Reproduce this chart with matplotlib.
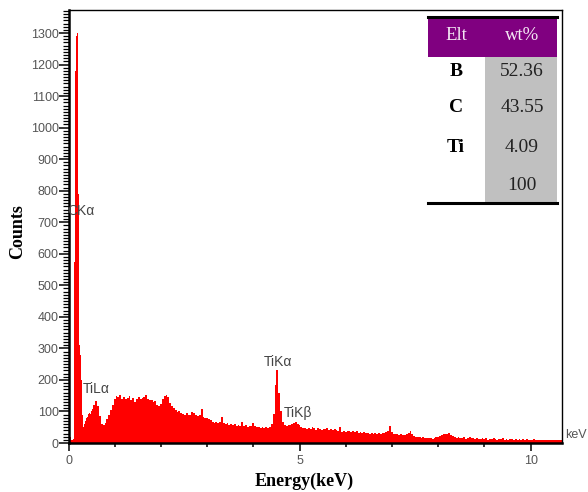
import numpy as np
import matplotlib
matplotlib.use("Agg")
import matplotlib.pyplot as plt
from matplotlib.ticker import MultipleLocator
from matplotlib.patches import Rectangle

# low energy part, 0.01 keV channels
low_start, low_step = 0.0, 0.01
counts_low = [24, 26, 25, 22, 20, 12, 10, 9, 11, 10,
              14, 540, 575, 590, 610, 1180, 1218, 1290, 1322, 1300,
              818, 790, 330, 310, 300, 280, 230, 215, 200, 150,
              90, 55, 52, 56, 60, 58, 70, 80, 78, 85,
              88, 84, 90, 92, 88, 94, 96, 92, 98, 102]

# rest of spectrum, 0.04 keV channels from 0.50 keV
main_start, main_step = 0.50, 0.04
counts_main = [108, 120, 133, 118, 85, 60, 58, 62, 75, 90,
               105, 120, 138, 148, 145, 152, 140, 147, 138, 144,
               150, 136, 142, 131, 140, 145, 138, 142, 147, 152,
               140, 135, 137, 131, 134, 122, 118, 125, 140, 150,
               152, 145, 128, 118, 112, 104, 99, 100, 95, 92,
               89, 94, 90, 88, 99, 96, 88, 86, 89, 108,
               84, 80, 78, 76, 72, 68, 64, 66, 62, 68,
               83, 64, 60, 62, 58, 60, 57, 61, 55, 57,
               53, 68, 54, 58, 52, 55, 53, 62, 54, 50,
               52, 48, 51, 47, 50, 46, 52, 60, 92, 185,
               231, 160, 100, 66, 57, 55, 58, 56, 60, 63,
               66, 61, 58, 50, 46, 48, 45, 47, 44, 50,
               46, 42, 48, 44, 41, 45, 43, 47, 42, 44,
               40, 43, 41, 38, 50, 36, 39, 36, 38, 37,
               35, 38, 34, 37, 33, 35, 32, 34, 31, 33,
               30, 32, 30, 31, 29, 32, 30, 33, 31, 34,
               38, 54, 35, 30, 27, 29, 25, 27, 24, 26,
               28, 33, 37, 30, 22, 20, 18, 19, 16, 18,
               15, 17, 15, 16, 14, 16, 20, 18, 22, 24,
               27, 30, 28, 33, 26, 22, 18, 16, 19, 15,
               17, 18, 14, 16, 19, 15, 17, 13, 15, 12,
               14, 16, 13, 15, 11, 14, 12, 16, 13, 11,
               14, 12, 15, 11, 13, 10, 12, 14, 11, 13,
               10, 12, 11, 13, 10, 12, 9, 11, 10, 12,
               9, 11, 10, 9, 11, 10, 9, 10, 9, 10,
               9, 10, 9, 10, 10]

elements = ["B", "C", "Ti", ""]
wt_pct = ["52.36", "43.55", "4.09", "100"]

peak_labels = ["CK\u03b1", "TiL\u03b1", "TiK\u03b1", "TiK\u03b2"]
peak_x = [-0.02, 0.30, 4.22, 4.65]
peak_y = [735, 171, 257, 95]

fig = plt.figure(figsize=(5.88, 4.92), dpi=100)
ax = fig.add_axes([68.5 / 588, 49 / 492, (562 - 68.5) / 588, 433 / 492])

edges_low = low_start + low_step * np.arange(len(counts_low) + 1)
edges_main = main_start + main_step * np.arange(len(counts_main) + 1)
ax.stairs(counts_low, edges_low, fill=True, color="#ff0000", linewidth=0)
ax.stairs(counts_main, edges_main, fill=True, color="#ff0000", linewidth=0)

ax.set_xlim(0, 10.68)
ax.set_ylim(0, 1373)

ax.xaxis.set_major_locator(MultipleLocator(5))
ax.xaxis.set_minor_locator(MultipleLocator(1))
ax.yaxis.set_major_locator(MultipleLocator(100))
ax.yaxis.set_minor_locator(MultipleLocator(10))
ax.tick_params(axis="x", which="major", direction="out", length=5.5, width=1.1,
               labelsize=9, labelcolor="#555555", pad=3)
ax.tick_params(axis="x", which="minor", direction="out", length=3, width=1.1)
ax.tick_params(axis="y", which="major", direction="out", length=7, width=1.1,
               labelsize=9, labelcolor="#555555", pad=0)
ax.tick_params(axis="y", which="minor", direction="out", length=4, width=0.9)
for lab in ax.get_xticklabels() + ax.get_yticklabels():
    lab.set_family("Liberation Sans")

ax.spines["left"].set_linewidth(1.8)
ax.spines["bottom"].set_linewidth(1.8)
ax.spines["top"].set_linewidth(1.0)
ax.spines["right"].set_linewidth(1.0)

for lab, x, y in zip(peak_labels, peak_x, peak_y):
    ax.text(x, y, lab, fontsize=10, color="#444444", family="Liberation Sans",
            ha="left", va="center")

fig.text(565 / 588, 1 - 435 / 492, "keV", fontsize=9, color="#555555",
         family="Liberation Sans", ha="left", va="center")
fig.text(18 / 588, 1 - 232 / 492, "Counts", fontsize=13, fontweight="bold",
         family="Liberation Serif", rotation=90, ha="center", va="center")
fig.text(304 / 588, 1 - 481 / 492, "Energy(keV)", fontsize=13,
         fontweight="bold", family="Liberation Serif", ha="center", va="center")

# composition table (figure pixel layout)
W, H = 588.0, 492.0
tx0, tx1, tmid = 428, 557, 485
head_top, head_bot, tab_bot = 17, 57, 203
fig.patches.append(Rectangle((tx0 / W, 1 - head_bot / H), (tx1 - tx0) / W,
                             (head_bot - head_top) / H, transform=fig.transFigure,
                             facecolor="#800080", edgecolor="none"))
fig.patches.append(Rectangle((tmid / W, 1 - tab_bot / H), (tx1 - tmid) / W,
                             (tab_bot - head_bot) / H, transform=fig.transFigure,
                             facecolor="#c0c0c0", edgecolor="none"))
for yy in (head_top, tab_bot):
    fig.lines.append(plt.Line2D([tx0 / W, tx1 / W], [1 - yy / H, 1 - yy / H],
                                transform=fig.transFigure, color="black",
                                linewidth=2.2))
fig.text(456 / W, 1 - 36 / H, "Elt", fontsize=13.5, color="#f4e8f4",
         family="Liberation Serif", ha="center", va="center")
fig.text(522 / W, 1 - 36 / H, "wt%", fontsize=13.5, color="#f4e8f4",
         family="Liberation Serif", ha="center", va="center")
row_y = [72, 108, 147, 186]
for el, wt, yy in zip(elements, wt_pct, row_y):
    fig.text(456 / W, 1 - yy / H, el, fontsize=14, fontweight="bold",
             family="Liberation Serif", ha="center", va="center")
    fig.text(522 / W, 1 - yy / H, wt, fontsize=14, color="#222222",
             family="Liberation Serif", ha="center", va="center")

fig.savefig("out.png", dpi=100)
